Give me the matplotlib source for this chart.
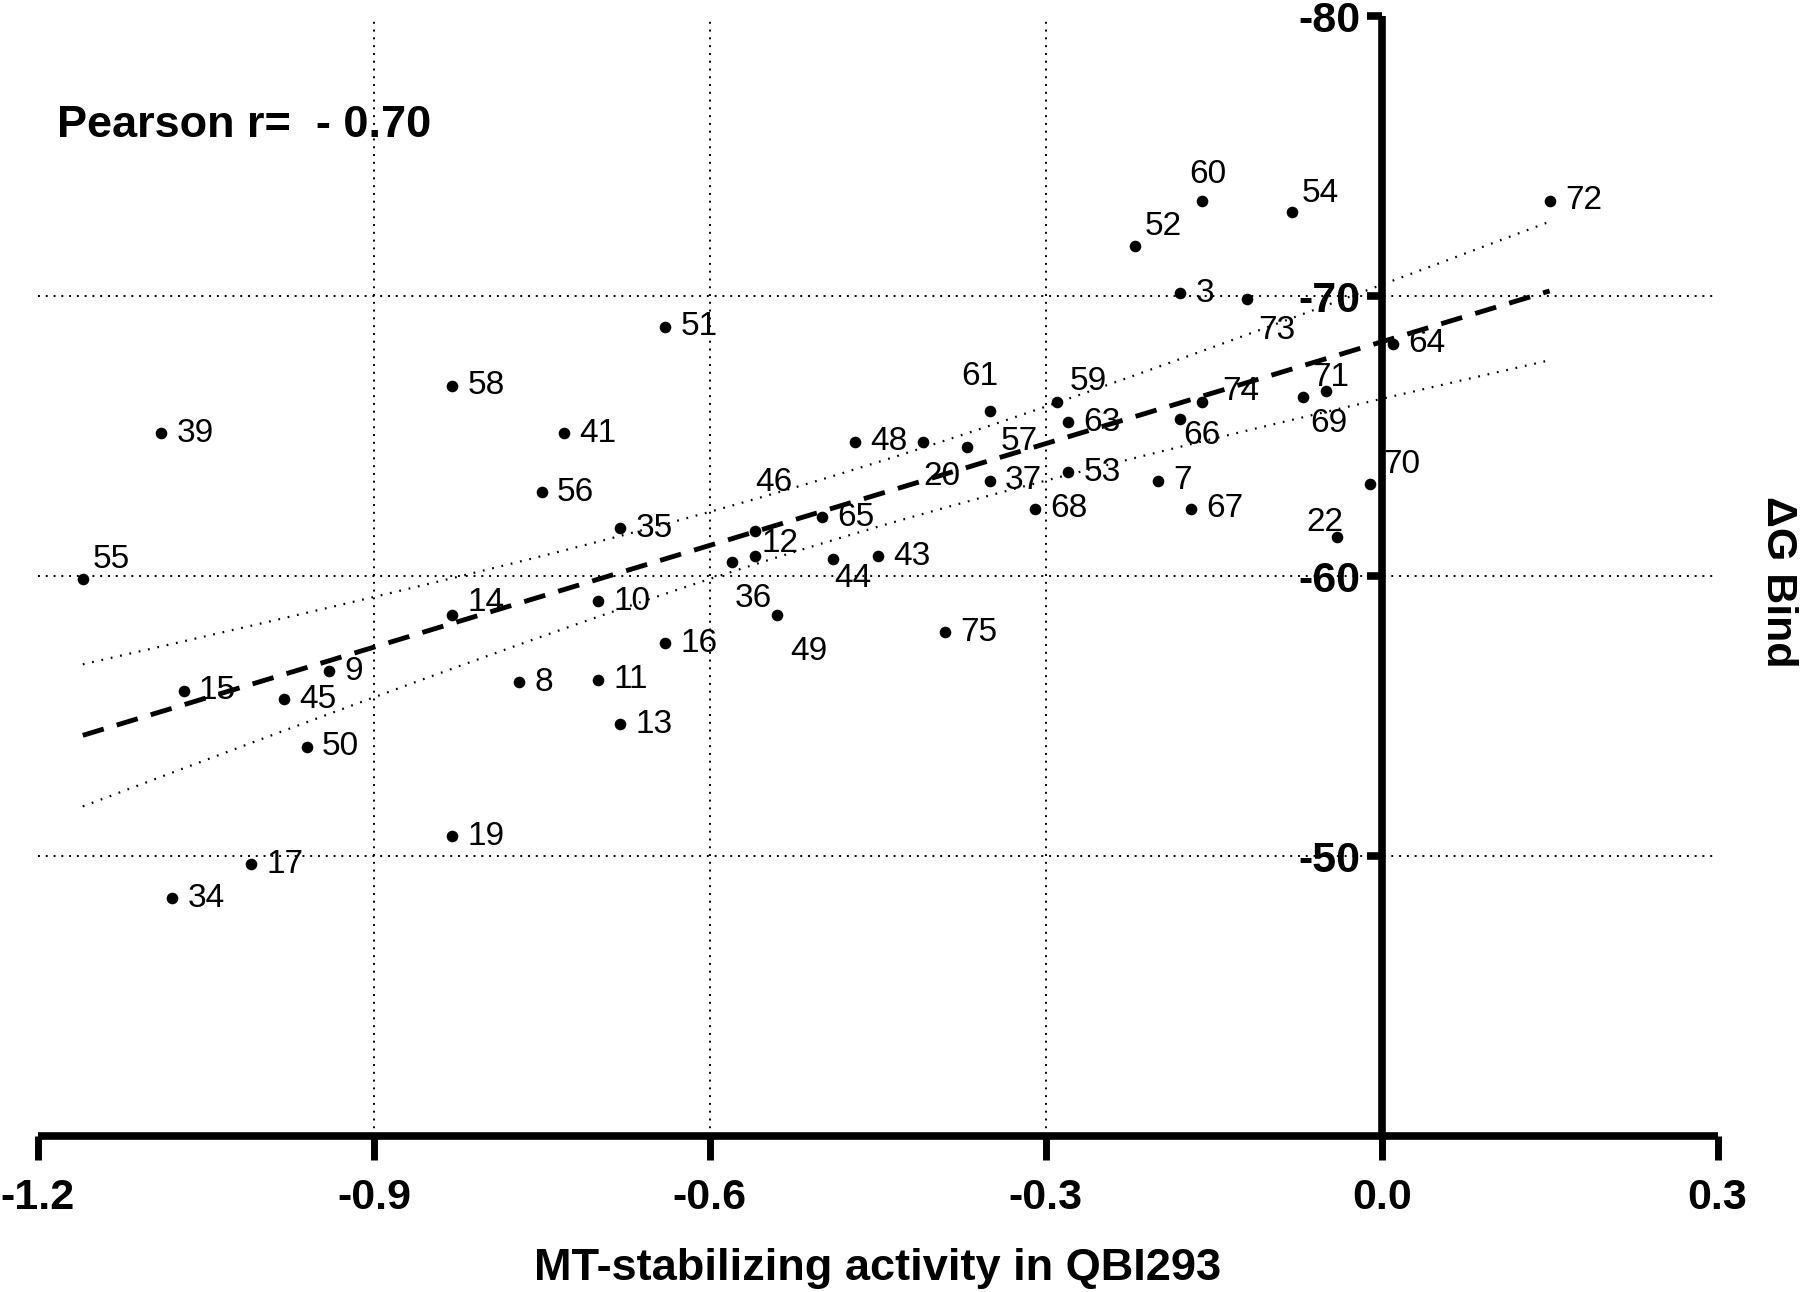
import numpy as np
import matplotlib.pyplot as plt

plt.rcParams['font.family'] = ['Liberation Sans', 'DejaVu Sans']

# compound id, MT-stabilizing activity, dG bind
ids = [60, 54, 52, 3, 73, 72, 64, 51, 58, 39, 41, 56, 61, 59, 63, 48, 20, 57,
       37, 53, 68, 7, 67, 66, 74, 69, 71, 22, 70, 46, 12, 36, 44, 43, 65, 49,
       35, 75, 55, 14, 10, 16, 15, 9, 45, 8, 11, 13, 50, 19, 17, 34]
activity = [-0.16, -0.08, -0.22, -0.18, -0.12, 0.15, 0.01, -0.64, -0.83, -1.09,
            -0.73, -0.75, -0.35, -0.29, -0.28, -0.47, -0.41, -0.37, -0.35, -0.28,
            -0.31, -0.20, -0.17, -0.18, -0.16, -0.07, -0.05, -0.04, -0.01, -0.56,
            -0.56, -0.58, -0.49, -0.45, -0.50, -0.54, -0.68, -0.39, -1.16, -0.83,
            -0.70, -0.64, -1.07, -0.94, -0.98, -0.77, -0.70, -0.68, -0.96, -0.83,
            -1.01, -1.08]
dg_bind = [-73.4, -73.0, -71.8, -70.1, -69.9, -73.4, -68.3, -68.9, -66.8, -65.1,
           -65.1, -63.0, -65.9, -66.2, -65.5, -64.8, -64.8, -64.6, -63.4, -63.7,
           -62.4, -63.4, -62.4, -65.6, -66.2, -66.4, -66.6, -61.4, -63.3, -61.6,
           -60.7, -60.5, -60.6, -60.7, -62.1, -58.6, -61.7, -58.0, -59.9, -58.6,
           -59.1, -57.6, -55.9, -56.6, -55.6, -56.2, -56.3, -54.7, -53.9, -50.7,
           -49.7, -48.5]

x_ticks = [-1.2, -0.9, -0.6, -0.3, 0.0, 0.3]
y_ticks = [-50, -60, -70, -80]

# label placement (offset points, alignment); others sit to the right
label_pos = {
    55: (7, 14, 'left'), 60: (4, 19, 'center'), 54: (7, 13, 'left'),
    52: (7, 14, 'left'), 73: (8, -23, 'left'), 61: (-7, 25, 'center'),
    59: (9, 15, 'left'), 20: (14, -25, 'center'), 66: (2, -12, 'left'),
    74: (14, 8, 'left'), 69: (5, -19, 'left'), 71: (4, 10, 'center'),
    70: (9, 14, 'left'), 22: (5, 10, 'right'), 46: (14, 35, 'center'),
    12: (5, 9, 'left'), 36: (15, -26, 'center'), 44: (14, -14, 'center'),
    49: (23, -26, 'center'), 57: (24, 4, 'left'), 14: (11, 9, 'left'),
}

x = np.array(activity)
y = np.array(dg_bind)

fig = plt.figure(figsize=(18, 12.92), dpi=100)
ax = fig.add_axes([0.0211, 0.1207, 0.9331, 0.8669])

# grid
for gx in x_ticks[1:4]:
    ax.axvline(gx, color='black', lw=1.4, ls=(0, (1, 3)), zorder=0)
for gy in y_ticks[:3]:
    ax.axhline(gy, color='black', lw=1.4, ls=(0, (1, 3)), zorder=0)

# linear fit with 95% confidence band
n = len(x)
b1, b0 = np.polyfit(x, y, 1)
xs = np.linspace(x.min(), x.max(), 200)
ys = b0 + b1 * xs
s = np.sqrt(np.sum((y - (b0 + b1 * x))**2) / (n - 2))
se = s * np.sqrt(1 / n + (xs - x.mean())**2 / np.sum((x - x.mean())**2))
t = 2.004
ax.plot(xs, ys, color='black', lw=3.5, ls=(0, (4.5, 2.8)), zorder=2)
ax.plot(xs, ys + t * se, color='black', lw=1.6, ls=(0, (0.8, 3.5)), zorder=2)
ax.plot(xs, ys - t * se, color='black', lw=1.6, ls=(0, (0.8, 3.5)), zorder=2)

ax.scatter(x, y, s=70, color='black', zorder=3, linewidths=0)

for i, cid in enumerate(ids):
    dx, dy, ha = label_pos.get(cid, (11, 0, 'left'))
    ax.annotate(str(cid), (x[i], y[i]), xytext=(dx, dy), textcoords='offset points',
                ha=ha, va='center', fontsize=24, zorder=4)

ax.text(-1.183, -76.1, 'Pearson r=  - 0.70', fontsize=32.5, fontweight='bold',
        ha='left', va='center')

ax.set_xlim(-1.2, 0.3)
ax.set_ylim(-40, -80)
ax.set_xticks(x_ticks)
ax.set_xticklabels(['%.1f' % v for v in x_ticks])
ax.set_yticks(y_ticks)
ax.set_yticklabels([str(v) for v in y_ticks])

ax.spines['left'].set_position(('data', 0))
ax.spines['top'].set_visible(False)
ax.spines['right'].set_visible(False)
for sp in ['left', 'bottom']:
    ax.spines[sp].set_linewidth(5.5)
    ax.spines[sp].set_capstyle('butt')

ax.tick_params(axis='x', length=17, width=5, pad=13, labelsize=31, direction='out')
ax.tick_params(axis='y', length=11, width=5.5, pad=4, labelsize=31, direction='out')
for lab in ax.get_xticklabels() + ax.get_yticklabels():
    lab.set_fontweight('bold')

fig.text(0.4876, 0.009, 'MT-stabilizing activity in QBI293', fontsize=32.5,
         fontweight='bold', ha='center', va='baseline')
fig.text(0.988, 0.5495, 'ΔG Bind', fontsize=31, fontweight='bold',
         rotation=270, ha='center', va='center')

fig.savefig('out.png', dpi=100)
